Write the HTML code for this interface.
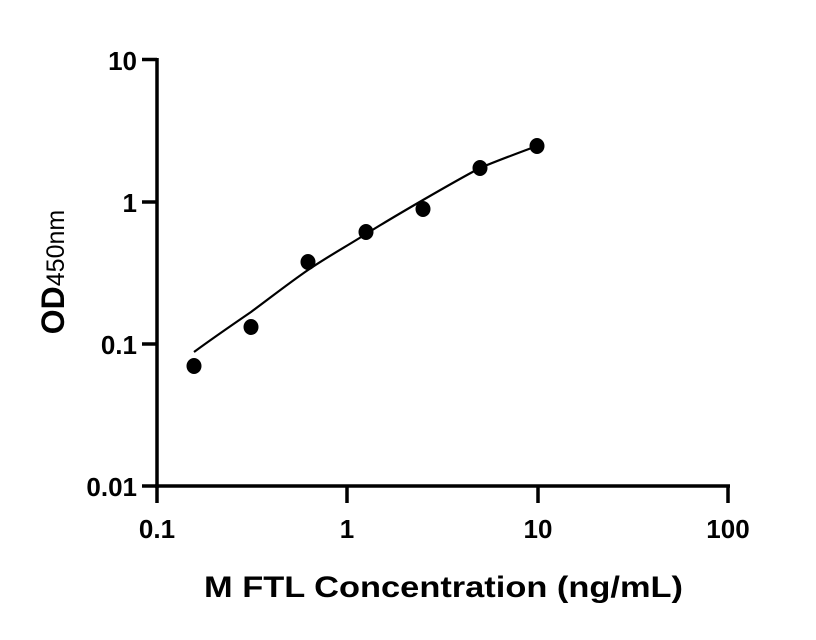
<!DOCTYPE html>
<html><head><meta charset="utf-8"><style>
html,body{margin:0;padding:0;background:#fff;}
svg{display:block;}
text{font-family:"Liberation Sans",Arial,sans-serif;fill:#000;}
</style></head><body>
<svg width="816" height="640" viewBox="0 0 816 640" xmlns="http://www.w3.org/2000/svg">
<g stroke="#000" stroke-width="3.5" fill="none" stroke-linecap="butt">
<line x1="157" y1="58" x2="157" y2="488"/>
<line x1="155" y1="486" x2="730" y2="486"/>
<line x1="142" y1="59.5" x2="157" y2="59.5"/>
<line x1="142" y1="202" x2="157" y2="202"/>
<line x1="142" y1="344" x2="157" y2="344"/>
<line x1="142" y1="486" x2="157" y2="486"/>
<line x1="157" y1="486" x2="157" y2="503"/>
<line x1="347" y1="486" x2="347" y2="503"/>
<line x1="538" y1="486" x2="538" y2="503"/>
<line x1="728" y1="486" x2="728" y2="503"/>
</g>
<g font-size="26" font-weight="bold" text-anchor="end">
<text x="137" y="70">10</text>
<text x="137" y="212">1</text>
<text x="137" y="354">0.1</text>
<text x="137" y="496">0.01</text>
</g>
<g font-size="26" font-weight="bold" text-anchor="middle">
<text x="157" y="538">0.1</text>
<text x="347" y="538">1</text>
<text x="538" y="538">10</text>
<text x="728" y="538">100</text>
</g>
<text x="204" y="597" font-size="30" font-weight="bold" textLength="479" lengthAdjust="spacingAndGlyphs">M FTL Concentration (ng/mL)</text>
<text transform="translate(64,272) rotate(-90)" text-anchor="middle"><tspan font-size="32" font-weight="bold">OD</tspan><tspan font-size="25">450nm</tspan></text>
<path d="M194,352 C213,338 232,325 251,312 C270,298 289,283 308,270 C327,257 347,246 366,234 C385,222 404,211 423,200 C442,189 461,178 480,168 C499,160 518,153 537,146" stroke="#000" stroke-width="2.2" fill="none"/>
<g fill="#000">
<ellipse cx="194" cy="366" rx="7.5" ry="8"/>
<ellipse cx="251" cy="327" rx="7.5" ry="8"/>
<ellipse cx="308" cy="262" rx="7.5" ry="8"/>
<ellipse cx="366" cy="232" rx="7.5" ry="8"/>
<ellipse cx="423" cy="209" rx="7.5" ry="8"/>
<ellipse cx="480" cy="168" rx="7.5" ry="8"/>
<ellipse cx="537" cy="146" rx="7.5" ry="8"/>
</g>
</svg>
</body></html>
